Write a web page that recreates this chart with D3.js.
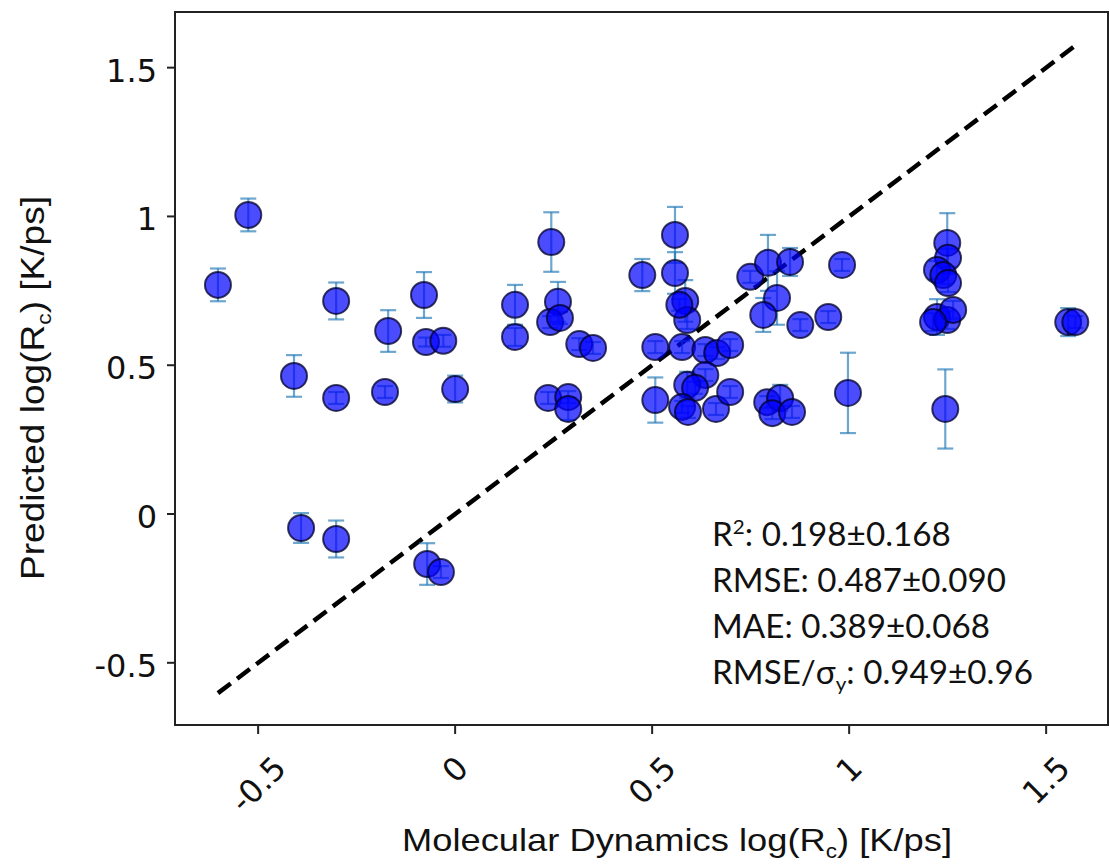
<!DOCTYPE html>
<html><head><meta charset="utf-8">
<script src="https://cdn.jsdelivr.net/npm/d3@7"></script>
<style>body{margin:0;background:#fff}svg{display:block}</style>
</head><body><svg id="c" width="1110" height="865"></svg>
<script>
// ---- data ----
const mdX = [-0.602,-0.525,-0.409,-0.302,-0.391,-0.302,-0.302,-0.170,-0.178,-0.079,
  -0.074,-0.030,0.000,-0.071,-0.036,0.152,0.152,0.244,0.261,0.241,
  0.266,0.315,0.350,0.236,0.287,0.287,0.475,0.558,0.558,0.584,
  0.589,0.569,0.508,0.576,0.635,0.665,0.698,0.635,0.589,0.609,
  0.508,0.576,0.591,0.662,0.698,0.749,0.794,0.850,0.982,0.817,
  0.782,0.876,0.947,0.792,0.825,0.805,0.855,0.997,1.249,1.251,
  1.223,1.239,1.251,1.223,1.249,1.264,1.213,1.244,1.556,1.574];
const predY = [0.770,1.005,0.464,0.390,-0.047,-0.084,0.716,0.615,0.410,0.736,
  0.578,0.582,0.420,-0.168,-0.195,0.703,0.595,0.914,0.713,0.645,
  0.659,0.571,0.558,0.390,0.393,0.353,0.803,0.938,0.810,0.716,
  0.652,0.703,0.561,0.561,0.551,0.541,0.568,0.467,0.434,0.424,
  0.383,0.360,0.343,0.353,0.410,0.797,0.844,0.847,0.837,0.726,
  0.669,0.635,0.662,0.376,0.390,0.339,0.343,0.407,0.911,0.861,
  0.820,0.803,0.776,0.662,0.652,0.686,0.645,0.353,0.645,0.645];
const predErr = [0.055,0.055,0.070,0.020,0.050,0.062,0.062,0.070,0.020,0.077,
  0.015,0.020,0.045,0.070,0.020,0.067,0.030,0.100,0.067,0.020,
  0.020,0.020,0.020,0.020,0.020,0.037,0.054,0.094,0.070,0.070,
  0.030,0.020,0.020,0.020,0.020,0.020,0.020,0.020,0.044,0.020,
  0.076,0.020,0.020,0.020,0.020,0.020,0.094,0.047,0.020,0.090,
  0.057,0.020,0.020,0.020,0.044,0.020,0.020,0.135,0.100,0.030,
  0.030,0.030,0.030,0.060,0.030,0.030,0.030,0.133,0.047,0.020];
const xTickValues = [-0.5, 0, 0.5, 1, 1.5];
const xTickLabels = ["-0.5", "0", "0.5", "1", "1.5"];
const yTickValues = [-0.5, 0, 0.5, 1, 1.5];
const yTickLabels = ["-0.5", "0", "0.5", "1", "1.5"];
const xLimits = [-0.711, 1.657];
const yLimits = [-0.709, 1.687];
const statLines = [
  [["R",""],["2","sup"],[": 0.198\u00b10.168",""]],
  [["RMSE: 0.487\u00b10.090",""]],
  [["MAE: 0.389\u00b10.068",""]],
  [["RMSE/\u03c3",""],["y","sub"],[": 0.949\u00b10.96",""]]
];
const xLabel = [["Molecular Dynamics log(R",""],["c","sub"],[") [K/ps]",""]];
const yLabel = [["Predicted log(R",""],["c","sub"],[") [K/ps]",""]];

// ---- layout ----
const L = 175, R = 1108, T = 12, B = 725;
const svg = d3.select("#c");
const x = d3.scaleLinear().domain(xLimits).range([L, R]);
const y = d3.scaleLinear().domain(yLimits).range([B, T]);
const pts = mdX.map((v,i)=>({x:v,y:predY[i],e:predErr[i]}));

function addRich(sel, parts, fs){
  parts.forEach(([t,k],i)=>{
    const ts = sel.append("tspan").text(t);
    const prev = i>0 ? parts[i-1][1] : "";
    if(k==="sub"){ ts.attr("font-size", fs*0.62).attr("dy", fs*0.22); }
    else if(k==="sup"){ ts.attr("font-size", fs*0.62).attr("dy", -fs*0.38); }
    else if(prev==="sub"){ ts.attr("dy", -fs*0.22); }
    else if(prev==="sup"){ ts.attr("dy", fs*0.38); }
  });
}

// dashed identity line
const ext = d3.extent(mdX);
svg.append("line")
  .attr("x1", x(ext[0])).attr("y1", y(ext[0]))
  .attr("x2", x(ext[1])).attr("y2", y(ext[1]))
  .attr("stroke","#000").attr("stroke-width",4.5).attr("stroke-dasharray","16,8");

// error bars
const eb = svg.append("g").attr("stroke","rgba(31,119,180,0.65)").attr("stroke-width",2.2);
pts.forEach(p=>{
  const cx = x(p.x), y1 = y(p.y+p.e), y2 = y(p.y-p.e);
  eb.append("line").attr("x1",cx).attr("x2",cx).attr("y1",y1).attr("y2",y2);
  eb.append("line").attr("x1",cx-8).attr("x2",cx+8).attr("y1",y1).attr("y2",y1);
  eb.append("line").attr("x1",cx-8).attr("x2",cx+8).attr("y1",y2).attr("y2",y2);
});

// points
svg.append("g").selectAll("circle").data(pts).join("circle")
  .attr("cx",d=>x(d.x)).attr("cy",d=>y(d.y)).attr("r",13)
  .attr("fill","rgba(0,0,255,0.7)")
  .attr("stroke","rgba(0,0,40,0.75)").attr("stroke-width",2);

// frame
svg.append("rect").attr("x",L).attr("y",T).attr("width",R-L).attr("height",B-T)
  .attr("fill","none").attr("stroke","#222").attr("stroke-width",2);

// y axis ticks
const tickFont = "DejaVu Sans";
yTickValues.forEach((v,i)=>{
  svg.append("line").attr("x1",L-8).attr("x2",L).attr("y1",y(v)).attr("y2",y(v))
    .attr("stroke","#222").attr("stroke-width",2);
  svg.append("text").attr("x",157).attr("y",y(v)+14)
    .attr("text-anchor","end").attr("font-family",tickFont).attr("font-size",32)
    .attr("fill","#111").text(yTickLabels[i]);
});
// x axis ticks
xTickValues.forEach((v,i)=>{
  const tx = x(v);
  svg.append("line").attr("x1",tx).attr("x2",tx).attr("y1",B).attr("y2",B+9)
    .attr("stroke","#222").attr("stroke-width",2);
  const t = svg.append("text").attr("x",0).attr("y",0)
    .attr("text-anchor","middle").attr("dominant-baseline","central")
    .attr("font-family",tickFont).attr("font-size",32).attr("fill","#111")
    .text(xTickLabels[i]);
  const bb = t.node().getBBox();
  const rh = (bb.width + bb.height)/Math.SQRT2;
  t.attr("transform",`translate(${tx},${B+24+rh/2}) rotate(-45)`);
});

// axis labels
const labFont = "Liberation Sans, Arial, sans-serif";
{
  const t = svg.append("text").attr("x",0).attr("y",0).attr("text-anchor","middle")
    .attr("font-family",labFont).attr("font-size",32).attr("fill","#111");
  addRich(t, xLabel, 32);
  const w = t.node().getBBox().width;
  t.attr("transform",`translate(677,851) scale(${550/w},1)`);
}
{
  const t = svg.append("text").attr("x",0).attr("y",0).attr("text-anchor","middle")
    .attr("font-family",labFont).attr("font-size",33).attr("fill","#111");
  addRich(t, yLabel, 33);
  const w = t.node().getBBox().width;
  t.attr("transform",`translate(44,388) rotate(-90) scale(${384/w},1)`);
}

// stats annotation
const statW = [239, 294, 278, 321];
const statBase = [546, 592, 638, 684];
statLines.forEach((parts,i)=>{
  const t = svg.append("text").attr("x",0).attr("y",0)
    .attr("font-family","Lato, Carlito, sans-serif").attr("font-size",32).attr("fill","#111");
  addRich(t, parts, 32);
  const w = t.node().getBBox().width;
  t.attr("transform",`translate(712,${statBase[i]}) scale(${statW[i]/w},1)`);
});
</script>
</body></html>
